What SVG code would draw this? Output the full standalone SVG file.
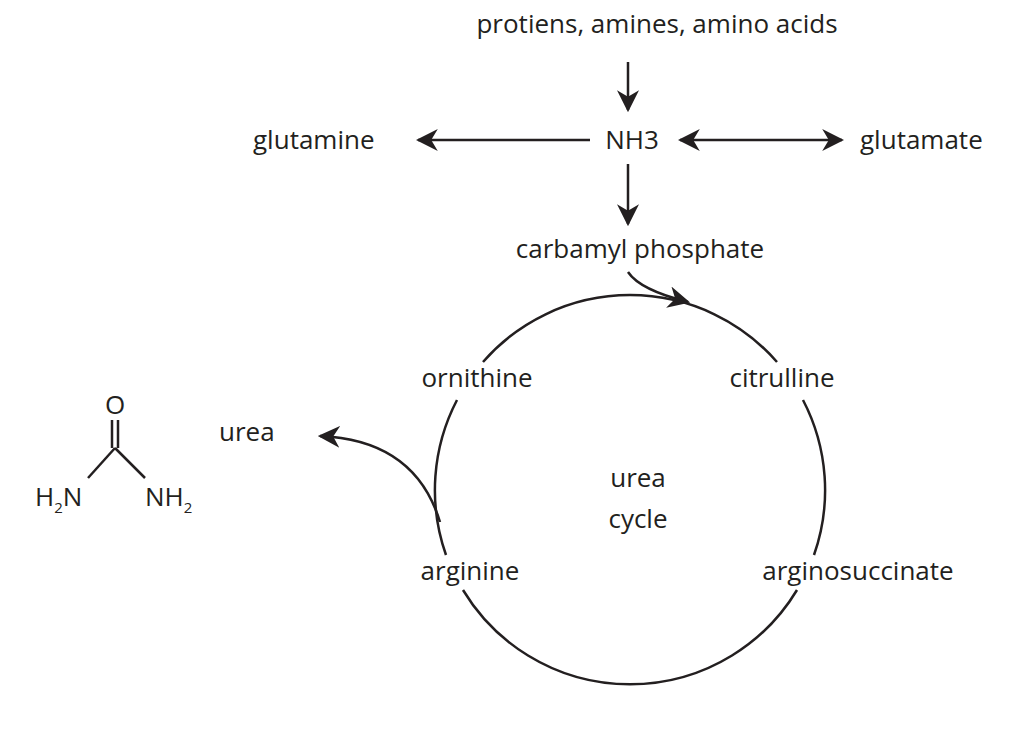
<svg xmlns="http://www.w3.org/2000/svg" width="1024" height="747" viewBox="0 0 1024 747">
<defs><marker id="ah" viewBox="0 0 10 10" refX="9" refY="5" markerWidth="8" markerHeight="8" markerUnits="userSpaceOnUse" orient="auto-start-reverse"><path d="M0,0 L10,5 L0,10 L3,5 Z" fill="#231f20"/></marker>
<marker id="a2" viewBox="0 0 10 10" refX="9" refY="5" markerWidth="22" markerHeight="22" markerUnits="userSpaceOnUse" orient="auto-start-reverse"><path d="M0,0 L10,5 L0,10 L3,5 Z" fill="#231f20"/></marker></defs>
<style>text{font-family:"Open Sans","Liberation Sans",sans-serif;font-size:26px;fill:#231f20}.m{text-anchor:middle}line,path.c{stroke:#231f20;stroke-width:2.5;fill:none}</style>
<rect width="1024" height="747" fill="#fff"/>
<g id="connectors">
<line x1="628" y1="62" x2="628" y2="110" marker-end="url(#a2)"/>
<line x1="590" y1="140" x2="418" y2="140" marker-end="url(#a2)"/>
<line x1="680" y1="140" x2="842" y2="140" marker-start="url(#a2)" marker-end="url(#a2)"/>
<line x1="628" y1="164" x2="628" y2="224" marker-end="url(#a2)"/>
<path class="c" d="M628,272 Q640,290 688,302" marker-end="url(#a2)"/>
<path class="c" d="M440,522 Q415,440 320,436" marker-end="url(#a2)"/>
<path class="c" d="M483,362 A195,195 0 0 1 777,362"/>
<path class="c" d="M803,400 A195,195 0 0 1 814,555"/>
<path class="c" d="M797,590 A195,195 0 0 1 463,590"/>
<path class="c" d="M446,555 A195,195 0 0 1 457,400"/>
</g>
<g id="n-top"><text class="m" x="657" y="33">protiens, amines, amino acids</text></g>
<g id="n-nh3"><text class="m" x="632" y="149">NH3</text></g>
<g id="n-glutamine"><text x="253" y="149">glutamine</text></g>
<g id="n-glutamate"><text x="860" y="149">glutamate</text></g>
<g id="n-carb"><text class="m" x="640" y="258">carbamyl phosphate</text></g>
<g id="n-orn"><text class="m" x="477" y="387">ornithine</text></g>
<g id="n-cit"><text class="m" x="782" y="387">citrulline</text></g>
<g id="n-arg"><text class="m" x="470" y="580">arginine</text></g>
<g id="n-args"><text class="m" x="858" y="580">arginosuccinate</text></g>
<g id="n-cycle"><text class="m" x="638" y="487">urea</text><text class="m" x="638" y="528">cycle</text></g>
<g id="n-urea"><text x="219" y="441">urea</text></g>
<g id="n-mol">
<line x1="112" y1="420" x2="112" y2="448" stroke-width="1.8"/>
<line x1="118" y1="420" x2="118" y2="448" stroke-width="1.8"/>
<line x1="115" y1="448" x2="88" y2="478" stroke-width="1.8"/>
<line x1="115" y1="448" x2="145" y2="478" stroke-width="1.8"/>
<text class="m" x="115" y="414" font-size="22">O</text>
<text x="35" y="506" font-size="22">H<tspan font-size="15" dy="7">2</tspan><tspan dy="-7">N</tspan></text>
<text x="145" y="506" font-size="22">NH<tspan font-size="15" dy="7">2</tspan></text>
</g>
</svg>
